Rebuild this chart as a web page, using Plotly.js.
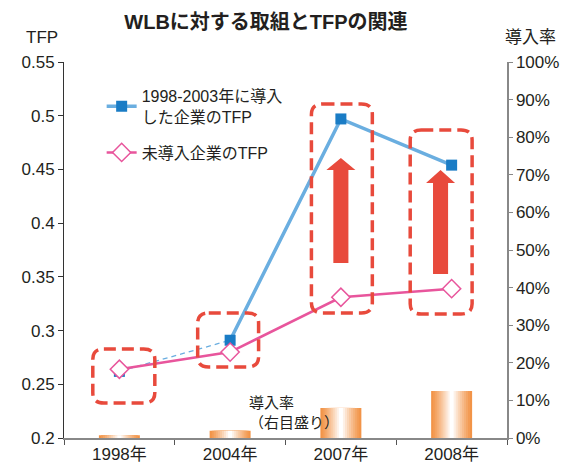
<!DOCTYPE html>
<html>
<head>
<meta charset="utf-8">
<script src="https://cdn.plot.ly/plotly-3.0.1.min.js"></script>
<style>html,body{margin:0;padding:0;background:#fff;}#chart{width:572px;height:468px;}</style>
</head>
<body>
<div id="chart"></div>
<script>
// ---- data ----
var categories = ['1998年', '2004年', '2007年', '2008年'];
var tfpAdopters = [0.262, 0.291, 0.497, 0.454];      // 1998-2003年に導入した企業のTFP
var tfpNonAdopters = [0.264, 0.280, 0.331, 0.339];   // 未導入企業のTFP
var adoptionRate = [0.007, 0.019, 0.080, 0.125];     // 導入率（右目盛り）

var FONT = 'Liberation Sans, Arial, Noto Sans CJK JP, sans-serif';
var TXT = '#231f20';
var RED = '#e84a3c';
var BLUE_LINE = '#6aaee0';
var BLUE_MARK = '#1a7cc5';
var PINK = '#e8559c';

var traces = [];

// gradient bars built from overlaid bars of decreasing width
var nLayers = 10;
var edge = [242, 148, 72];
for (var k = 0; k < nLayers; k++) {
  var t = k / (nLayers - 1);
  var c = edge.map(function (v) { return Math.round(v + (255 - v) * Math.pow(t, 1.2)); });
  traces.push({
    type: 'bar', x: categories, y: adoptionRate, yaxis: 'y2',
    width: 0.37 * (1 - k / nLayers),
    marker: { color: 'rgb(' + c.join(',') + ')', line: { width: 0 } },
    showlegend: false, hoverinfo: 'skip'
  });
}

// dashed connector 1998 -> 2004 for adopters
traces.push({
  type: 'scatter', mode: 'lines', x: categories.slice(0, 2), y: tfpAdopters.slice(0, 2),
  line: { color: BLUE_LINE, width: 1.3, dash: '5px,4px' }, showlegend: false, hoverinfo: 'skip'
});
// 1998 marker of adopters
traces.push({
  type: 'scatter', mode: 'markers', x: categories.slice(0, 1), y: tfpAdopters.slice(0, 1),
  marker: { symbol: 'square', size: 11, color: BLUE_MARK }, showlegend: false
});
// main adopters line
traces.push({
  type: 'scatter', mode: 'lines+markers', x: categories.slice(1), y: tfpAdopters.slice(1),
  name: '1998-2003年に導入<br>した企業のTFP', legendgroup: 'a',
  line: { color: BLUE_LINE, width: 3.5 },
  marker: { symbol: 'square', size: 11, color: BLUE_MARK }
});
// non adopters
traces.push({
  type: 'scatter', mode: 'lines+markers', x: categories, y: tfpNonAdopters,
  name: '未導入企業のTFP', legendgroup: 'b',
  line: { color: PINK, width: 2.5 },
  marker: { symbol: 'diamond', size: 14, color: '#ffffff', line: { color: PINK, width: 1.5 } }
});

// rounded dashed boxes (positions in axis units)
function roundRect(x0, x1, y0, y1) {
  var rx = 0.1, ry = 0.0095;
  return 'M' + (x0 + rx) + ',' + y1 +
    ' L' + (x1 - rx) + ',' + y1 + ' Q' + x1 + ',' + y1 + ' ' + x1 + ',' + (y1 - ry) +
    ' L' + x1 + ',' + (y0 + ry) + ' Q' + x1 + ',' + y0 + ' ' + (x1 - rx) + ',' + y0 +
    ' L' + (x0 + rx) + ',' + y0 + ' Q' + x0 + ',' + y0 + ' ' + x0 + ',' + (y0 + ry) +
    ' L' + x0 + ',' + (y1 - ry) + ' Q' + x0 + ',' + y1 + ' ' + (x0 + rx) + ',' + y1 + ' Z';
}
function arrow(xc, yb, yh, yt) {
  var sw = 0.068, hw = 0.131;
  return 'M' + (xc - sw) + ',' + yb + ' L' + (xc - sw) + ',' + yh + ' L' + (xc - hw) + ',' + yh +
    ' L' + xc + ',' + yt + ' L' + (xc + hw) + ',' + yh + ' L' + (xc + sw) + ',' + yh +
    ' L' + (xc + sw) + ',' + yb + ' Z';
}
var boxStyle = { color: RED, width: 3.5, dash: '12px,6px' };
var shapes = [
  { type: 'path', xref: 'x', yref: 'y', path: roundRect(-0.24, 0.32, 0.2326, 0.2829), line: boxStyle },
  { type: 'path', xref: 'x', yref: 'y', path: roundRect(0.707, 1.257, 0.2661, 0.3164), line: boxStyle },
  { type: 'path', xref: 'x', yref: 'y', path: roundRect(1.734, 2.284, 0.3164, 0.5109), line: boxStyle },
  { type: 'path', xref: 'x', yref: 'y', path: roundRect(2.626, 3.185, 0.3154, 0.4867), line: boxStyle },
  { type: 'path', xref: 'x', yref: 'y', path: arrow(2.0, 0.3629, 0.4495, 0.4607), fillcolor: RED, line: { width: 0 } },
  { type: 'path', xref: 'x', yref: 'y', path: arrow(2.9, 0.3527, 0.4374, 0.4495), fillcolor: RED, line: { width: 0 } }
];

var layout = {
  width: 572, height: 468,
  margin: { l: 64, r: 65, t: 62, b: 30 },
  paper_bgcolor: '#ffffff', plot_bgcolor: '#ffffff',
  font: { family: FONT, color: TXT, size: 17 },
  title: { text: '<b>WLBに対する取組とTFPの関連</b>', font: { family: FONT, size: 20, color: TXT },
           x: 0.465, xanchor: 'center', y: 0.953, yanchor: 'middle', xref: 'container', yref: 'container' },
  barmode: 'overlay',
  showlegend: true,
  legend: { x: 0.085, y: 0.955, xanchor: 'left', yanchor: 'top', bgcolor: 'rgba(0,0,0,0)',
            font: { family: FONT, size: 16, color: TXT }, tracegroupgap: 12 },
  xaxis: { type: 'category', range: [-0.5, 3.5], showgrid: false, zeroline: false,
           showline: true, linecolor: '#888', linewidth: 1.5, ticks: 'outside', tickson: 'boundaries',
           ticklen: 5, tickcolor: '#555', tickfont: { size: 17 } },
  yaxis: { range: [0.2, 0.55], dtick: 0.05, tick0: 0.2, showgrid: false, zeroline: false,
           showline: true, linecolor: '#333', linewidth: 1, ticks: 'outside', ticklen: 5, tickcolor: '#333',
           tickfont: { size: 17 } },
  yaxis2: { overlaying: 'y', side: 'right', range: [0, 1], dtick: 0.1, tick0: 0, tickformat: '.0%',
            showgrid: false, zeroline: false, showline: true, linecolor: '#888', linewidth: 1.5,
            ticks: 'outside', ticklen: 4, tickcolor: '#888', tickfont: { size: 17 } },
  shapes: shapes,
  annotations: [
    { text: 'TFP', xref: 'paper', yref: 'paper', x: -0.05, y: 1.064, xanchor: 'center', yanchor: 'middle',
      showarrow: false, font: { size: 17 } },
    { text: '導入率', xref: 'paper', yref: 'paper', x: 1.052, y: 1.064, xanchor: 'center', yanchor: 'middle',
      showarrow: false, font: { size: 17 } },
    { text: '導入率<br>（右目盛り）', xref: 'paper', yref: 'paper', x: 0.413, y: 0.068, xanchor: 'left', yanchor: 'middle',
      align: 'left', showarrow: false, font: { size: 15 } }
  ]
};

Plotly.newPlot('chart', traces, layout, { staticPlot: true, displayModeBar: false });
</script>
</body>
</html>
